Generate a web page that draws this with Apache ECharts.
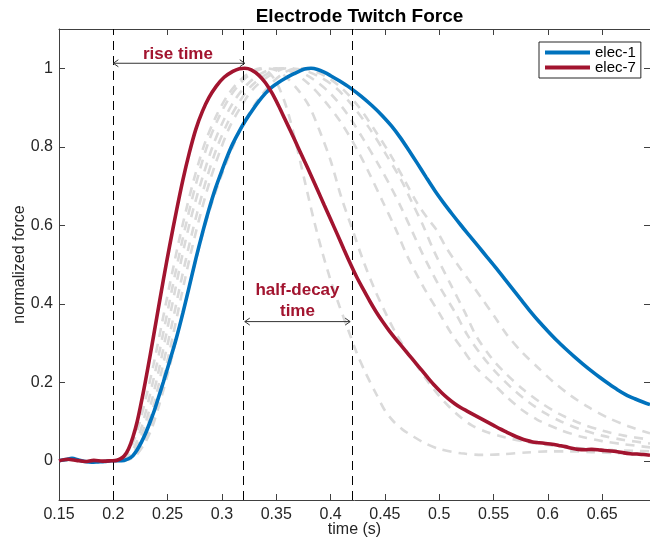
<!DOCTYPE html>
<html>
<head>
<meta charset="utf-8">
<title>Electrode Twitch Force</title>
<script src="https://cdn.jsdelivr.net/npm/echarts@6/dist/echarts.min.js"></script>
<style>
  html, body { margin: 0; padding: 0; background: #ffffff; }
  #chart { width: 650px; height: 539px; }
</style>
</head>
<body>
<div id="chart"></div>
<script>
// ---- data: [time (s), normalized force] ----
const elec1 = [
  [0.150,0.000],[0.156,0.003],[0.162,0.006],[0.168,0.002],[0.174,-0.002],[0.180,-0.004],[0.186,-0.003],
  [0.192,-0.002],[0.198,0.000],[0.204,0.000],[0.210,0.001],[0.214,0.005],[0.218,0.013],[0.222,0.028],
  [0.226,0.048],[0.230,0.072],[0.234,0.100],[0.238,0.130],[0.242,0.165],[0.246,0.200],[0.252,0.255],
  [0.258,0.312],[0.264,0.376],[0.270,0.445],[0.276,0.515],[0.282,0.580],[0.288,0.640],[0.294,0.694],
  [0.300,0.740],[0.305,0.776],[0.310,0.808],[0.316,0.840],[0.322,0.868],[0.328,0.893],[0.334,0.916],
  [0.340,0.936],[0.346,0.952],[0.352,0.964],[0.358,0.974],[0.364,0.983],[0.370,0.991],[0.376,0.998],
  [0.382,1.000],[0.388,0.997],[0.394,0.990],[0.400,0.981],[0.408,0.968],[0.418,0.950],[0.428,0.929],
  [0.438,0.905],[0.448,0.878],[0.456,0.853],[0.464,0.824],[0.472,0.791],[0.480,0.757],[0.488,0.722],
  [0.496,0.688],[0.504,0.657],[0.512,0.628],[0.520,0.600],[0.528,0.573],[0.536,0.546],[0.544,0.519],
  [0.552,0.492],[0.560,0.464],[0.568,0.436],[0.576,0.408],[0.584,0.380],[0.592,0.354],[0.600,0.330],
  [0.608,0.307],[0.616,0.286],[0.624,0.266],[0.632,0.247],[0.640,0.229],[0.648,0.212],[0.656,0.196],
  [0.664,0.181],[0.672,0.168],[0.680,0.158],[0.688,0.149],[0.694,0.143]
];

const elec7 = [
  [0.150,0.000],[0.158,0.004],[0.166,0.001],[0.174,-0.002],[0.182,0.001],[0.190,-0.001],[0.198,0.000],
  [0.203,0.001],[0.206,0.004],[0.210,0.012],[0.214,0.030],[0.218,0.060],[0.222,0.100],[0.228,0.180],
  [0.234,0.270],[0.240,0.365],[0.246,0.460],[0.252,0.550],[0.258,0.635],[0.264,0.715],[0.270,0.785],
  [0.276,0.845],[0.282,0.890],[0.288,0.925],[0.295,0.955],[0.302,0.977],[0.310,0.992],[0.316,0.999],
  [0.321,1.000],[0.327,0.996],[0.334,0.982],[0.340,0.963],[0.346,0.937],[0.352,0.905],[0.358,0.870],
  [0.364,0.835],[0.370,0.799],[0.376,0.763],[0.382,0.727],[0.388,0.690],[0.394,0.652],[0.400,0.615],
  [0.406,0.578],[0.412,0.540],[0.418,0.503],[0.424,0.468],[0.430,0.437],[0.436,0.407],[0.442,0.379],
  [0.448,0.354],[0.454,0.331],[0.460,0.310],[0.466,0.290],[0.472,0.270],[0.478,0.250],[0.484,0.230],
  [0.490,0.210],[0.496,0.191],[0.502,0.174],[0.508,0.159],[0.514,0.146],[0.520,0.135],[0.526,0.126],
  [0.532,0.117],[0.538,0.108],[0.544,0.099],[0.550,0.090],[0.556,0.081],[0.562,0.073],[0.568,0.065],
  [0.574,0.058],[0.580,0.052],[0.586,0.048],[0.592,0.046],[0.598,0.044],[0.604,0.042],[0.610,0.039],
  [0.616,0.036],[0.622,0.032],[0.628,0.029],[0.634,0.028],[0.640,0.029],[0.646,0.028],[0.652,0.026],
  [0.658,0.025],[0.664,0.023],[0.670,0.020],[0.676,0.018],[0.682,0.017],[0.688,0.016],[0.694,0.014]
];

// remaining electrodes (drawn as grey dashed traces)
const elecA = [
  [0.150,0.000],[0.200,0.000],[0.206,0.003],[0.212,0.015],[0.218,0.045],[0.224,0.095],[0.230,0.160],
  [0.237,0.245],[0.244,0.340],[0.252,0.450],[0.260,0.555],[0.268,0.650],[0.276,0.735],[0.285,0.815],
  [0.295,0.880],[0.305,0.930],[0.315,0.965],[0.325,0.988],[0.335,1.000],[0.343,0.990],[0.351,0.960],
  [0.360,0.895],[0.368,0.810],[0.376,0.715],[0.384,0.620],[0.392,0.535],[0.400,0.460],[0.408,0.395],
  [0.416,0.335],[0.424,0.275],[0.432,0.225],[0.442,0.170],[0.450,0.128],[0.458,0.100],[0.466,0.080],
  [0.476,0.062],[0.486,0.046],[0.500,0.030],[0.520,0.019],[0.540,0.015],[0.560,0.017],[0.580,0.021],
  [0.600,0.024],[0.620,0.024],[0.640,0.022],[0.660,0.020],[0.680,0.018],[0.694,0.017]
];
const elecB = [
  [0.150,0.000],[0.200,0.000],[0.208,0.003],[0.215,0.015],[0.221,0.045],[0.227,0.095],[0.233,0.160],
  [0.240,0.245],[0.247,0.340],[0.255,0.450],[0.263,0.555],[0.271,0.650],[0.279,0.735],[0.288,0.815],
  [0.298,0.880],[0.308,0.930],[0.318,0.965],[0.328,0.988],[0.340,1.000],[0.350,0.995],[0.360,0.975],
  [0.370,0.945],[0.380,0.905],[0.390,0.840],[0.400,0.765],[0.410,0.670],[0.420,0.590],[0.430,0.510],
  [0.440,0.440],[0.450,0.380],[0.460,0.325],[0.470,0.280],[0.480,0.240],[0.490,0.200],[0.500,0.165],
  [0.510,0.135],[0.520,0.110],[0.530,0.090],[0.545,0.072],[0.560,0.060],[0.580,0.048],[0.600,0.040],
  [0.620,0.034],[0.640,0.030],[0.660,0.027],[0.680,0.025],[0.694,0.024]
];
const elecC = [
  [0.150,0.000],[0.200,0.000],[0.210,0.003],[0.217,0.015],[0.223,0.045],[0.229,0.090],[0.236,0.160],
  [0.243,0.245],[0.250,0.340],[0.258,0.450],[0.266,0.555],[0.274,0.645],[0.283,0.730],[0.292,0.805],
  [0.302,0.870],[0.312,0.920],[0.323,0.958],[0.335,0.985],[0.350,1.000],[0.365,0.990],[0.380,0.960],
  [0.395,0.915],[0.410,0.860],[0.425,0.790],[0.436,0.730],[0.448,0.660],[0.460,0.590],[0.470,0.525],
  [0.485,0.445],[0.500,0.376],[0.511,0.325],[0.522,0.282],[0.534,0.237],[0.550,0.195],[0.562,0.163],
  [0.576,0.130],[0.590,0.105],[0.610,0.080],[0.630,0.062],[0.650,0.050],[0.670,0.042],[0.694,0.034]
];
const elecD = [
  [0.150,0.000],[0.200,0.000],[0.212,0.003],[0.219,0.015],[0.225,0.042],[0.231,0.085],[0.238,0.150],
  [0.245,0.235],[0.253,0.335],[0.261,0.440],[0.269,0.540],[0.277,0.630],[0.286,0.720],[0.295,0.795],
  [0.305,0.860],[0.315,0.910],[0.326,0.952],[0.340,0.983],[0.355,1.000],[0.370,0.993],[0.385,0.970],
  [0.400,0.935],[0.415,0.885],[0.430,0.820],[0.445,0.750],[0.455,0.700],[0.465,0.645],[0.475,0.585],
  [0.485,0.525],[0.500,0.445],[0.515,0.376],[0.526,0.320],[0.540,0.265],[0.554,0.220],[0.568,0.182],
  [0.582,0.150],[0.597,0.122],[0.612,0.100],[0.630,0.080],[0.650,0.064],[0.670,0.053],[0.694,0.044]
];
const elecE = [
  [0.150,0.000],[0.200,0.000],[0.214,0.003],[0.221,0.015],[0.227,0.040],[0.233,0.080],[0.240,0.140],
  [0.247,0.220],[0.255,0.320],[0.263,0.425],[0.271,0.525],[0.279,0.615],[0.288,0.705],[0.297,0.780],
  [0.307,0.850],[0.317,0.900],[0.328,0.945],[0.343,0.980],[0.360,1.000],[0.375,0.995],[0.390,0.978],
  [0.405,0.950],[0.420,0.905],[0.435,0.850],[0.450,0.785],[0.465,0.715],[0.475,0.658],[0.485,0.600],
  [0.495,0.535],[0.510,0.452],[0.524,0.376],[0.534,0.318],[0.548,0.262],[0.562,0.220],[0.578,0.180],
  [0.595,0.145],[0.610,0.120],[0.630,0.095],[0.650,0.077],[0.670,0.064],[0.694,0.054]
];
const elecF = [
  [0.150,0.000],[0.200,0.000],[0.212,0.002],[0.220,0.012],[0.228,0.040],[0.235,0.080],[0.242,0.140],
  [0.250,0.220],[0.258,0.310],[0.266,0.400],[0.274,0.490],[0.282,0.575],[0.290,0.650],[0.300,0.730],
  [0.310,0.800],[0.320,0.860],[0.332,0.915],[0.345,0.960],[0.357,0.988],[0.368,1.000],[0.380,0.997],
  [0.395,0.980],[0.410,0.950],[0.425,0.905],[0.440,0.845],[0.455,0.780],[0.468,0.715],[0.480,0.655],
  [0.490,0.615],[0.497,0.590],[0.506,0.545],[0.516,0.503],[0.527,0.461],[0.539,0.414],[0.551,0.367],
  [0.562,0.322],[0.576,0.277],[0.591,0.237],[0.605,0.201],[0.620,0.168],[0.637,0.137],[0.655,0.110],
  [0.674,0.088],[0.694,0.070]
];

// axis ticks
const xTickValues = [0.15, 0.2, 0.25, 0.3, 0.35, 0.4, 0.45, 0.5, 0.55, 0.6, 0.65];
const xTickLabels = ['0.15', '0.2', '0.25', '0.3', '0.35', '0.4', '0.45', '0.5', '0.55', '0.6', '0.65'];
const yTickValues = [0, 0.2, 0.4, 0.6, 0.8, 1];
const yTickLabels = ['0', '0.2', '0.4', '0.6', '0.8', '1'];

// event markers: onset, peak of elec-7, half decay of elec-7
const markerTimes = [0.2, 0.321, 0.418];
// interval arrows: [start, end, height]
const arrowSpans = [
  [0.2, 0.321, 1.0127],
  [0.321, 0.418, 0.3545]
];
const arrowTexts = ['rise time', 'half-decay\ntime'];
const arrowTextAnchors = [[0.2595, 1.036], [0.3695, 0.4076]];

// ---- styling ----
const FONT = '"Liberation Sans", Arial, Helvetica, sans-serif';
const AXIS_COLOR = '#404040';
const TEXT_COLOR = '#262626';
const BLUE = '#0072BD';
const RED = '#A2142F';
const GREY = '#dadada';
const ANNOT_RED = '#A2142F';

const chart = echarts.init(document.getElementById('chart'), null, { renderer: 'canvas' });

const tickStyle = { color: AXIS_COLOR, width: 1 };

function greySeries(name, data) {
  return {
    name: name, type: 'line', data: data, showSymbol: false, symbol: 'none',
    smooth: 0.3, z: 2, silent: true,
    lineStyle: { color: GREY, width: 2.6, type: [9, 7] }
  };
}

function pickLabel(values, labels) {
  return function (v) {
    const i = values.findIndex(function (t) { return Math.abs(t - v) < 1e-6; });
    return i >= 0 ? labels[i] : '';
  };
}

const option = {
  animation: false,
  backgroundColor: '#ffffff',
  title: {
    text: 'Electrode Twitch Force',
    left: 354.5, top: 2, textAlign: 'center',
    textStyle: { fontFamily: FONT, fontSize: 19, fontWeight: 'bold', color: '#000' }
  },
  legend: {
    data: ['elec-1', 'elec-7'],
    orient: 'vertical', left: 539, top: 42,
    icon: 'rect', itemWidth: 45, itemHeight: 4, itemGap: 0,
    padding: [3, 5, 3, 6],
    borderColor: '#262626', borderWidth: 1, borderRadius: 0,
    backgroundColor: '#ffffff',
    selectedMode: false,
    textStyle: { fontFamily: FONT, fontSize: 15, lineHeight: 15, color: '#000' }
  },
  grid: { left: 59, right: 0, top: 29, bottom: 39, containLabel: false, outerBoundsMode: 'none' },
  xAxis: [
    {
      type: 'value', min: 0.15, max: 0.694, position: 'bottom',
      axisLine: { show: true, onZero: false, lineStyle: tickStyle },
      axisTick: { show: true, inside: true, length: 6, customValues: xTickValues, lineStyle: tickStyle },
      axisLabel: {
        show: true, customValues: xTickValues, margin: 7,
        fontFamily: FONT, fontSize: 16, color: TEXT_COLOR,
        formatter: pickLabel(xTickValues, xTickLabels)
      },
      splitLine: { show: false },
      name: 'time (s)', nameLocation: 'middle', nameGap: 22, nameMoveOverlap: false,
      nameTextStyle: { fontFamily: FONT, fontSize: 16, color: TEXT_COLOR }
    },
    {
      type: 'value', min: 0.15, max: 0.694, position: 'top',
      axisLine: { show: true, onZero: false, lineStyle: tickStyle },
      axisTick: { show: true, inside: true, length: 6, customValues: xTickValues, lineStyle: tickStyle },
      axisLabel: { show: false },
      splitLine: { show: false }
    }
  ],
  yAxis: [
    {
      type: 'value', min: -0.1, max: 1.1, position: 'left',
      axisLine: { show: true, onZero: false, lineStyle: tickStyle },
      axisTick: { show: true, inside: true, length: 6, customValues: yTickValues, lineStyle: tickStyle },
      axisLabel: {
        show: true, customValues: yTickValues, margin: 6,
        fontFamily: FONT, fontSize: 16, color: TEXT_COLOR,
        formatter: pickLabel(yTickValues, yTickLabels)
      },
      splitLine: { show: false },
      name: 'normalized force', nameLocation: 'middle', nameGap: 31, nameMoveOverlap: false,
      nameTextStyle: { fontFamily: FONT, fontSize: 16, color: TEXT_COLOR }
    },
    {
      type: 'value', min: -0.1, max: 1.1, position: 'right',
      axisLine: { show: true, onZero: false, lineStyle: tickStyle },
      axisTick: { show: true, inside: true, length: 6, customValues: yTickValues, lineStyle: tickStyle },
      axisLabel: { show: false },
      splitLine: { show: false }
    }
  ],
  series: [
    greySeries('elec-a', elecA),
    greySeries('elec-b', elecB),
    greySeries('elec-c', elecC),
    greySeries('elec-d', elecD),
    greySeries('elec-e', elecE),
    greySeries('elec-f', elecF),
    {
      name: 'markers', type: 'line', data: [], silent: true, z: 3,
      markLine: {
        silent: true, symbol: ['none', 'none'], animation: false,
        label: { show: false },
        lineStyle: { color: '#000000', width: 1, type: [9, 6] },
        emphasis: { disabled: true },
        data: markerTimes.map(function (t) { return { xAxis: t }; })
      }
    },
    {
      name: 'elec-1', type: 'line', data: elec1, showSymbol: false, symbol: 'none',
      smooth: 0.3, z: 4, silent: true,
      lineStyle: { color: BLUE, width: 3.6 }, itemStyle: { color: BLUE }
    },
    {
      name: 'elec-7', type: 'line', data: elec7, showSymbol: false, symbol: 'none',
      smooth: 0.3, z: 5, silent: true,
      lineStyle: { color: RED, width: 3.6 }, itemStyle: { color: RED }
    },
    {
      // double-headed interval arrows
      name: 'arrows', type: 'custom', coordinateSystem: 'cartesian2d',
      data: arrowSpans, encode: { x: [0, 1], y: 2 }, z: 6, silent: true, clip: false,
      renderItem: function (params, api) {
        const a = api.coord([api.value(0), api.value(2)]);
        const b = api.coord([api.value(1), api.value(2)]);
        const h = 5, w = 3.5;
        const st = { stroke: '#333333', lineWidth: 1, fill: null };
        return {
          type: 'group',
          children: [
            { type: 'line', shape: { x1: a[0], y1: a[1], x2: b[0], y2: b[1] }, style: st },
            { type: 'polyline', shape: { points: [[a[0] + h, a[1] - w], [a[0], a[1]], [a[0] + h, a[1] + w]] }, style: st },
            { type: 'polyline', shape: { points: [[b[0] - h, b[1] - w], [b[0], b[1]], [b[0] - h, b[1] + w]] }, style: st }
          ]
        };
      }
    },
    {
      // arrow captions
      name: 'captions', type: 'custom', coordinateSystem: 'cartesian2d',
      data: arrowTextAnchors, z: 7, silent: true, clip: false,
      renderItem: function (params, api) {
        const p = api.coord([api.value(0), api.value(1)]);
        return {
          type: 'text', x: p[0], y: p[1],
          style: {
            text: arrowTexts[params.dataIndex],
            fill: ANNOT_RED, fontFamily: FONT, fontSize: 17, fontWeight: 'bold',
            align: 'center', verticalAlign: 'middle', lineHeight: 21
          }
        };
      }
    }
  ]
};

chart.setOption(option);
</script>
</body>
</html>
